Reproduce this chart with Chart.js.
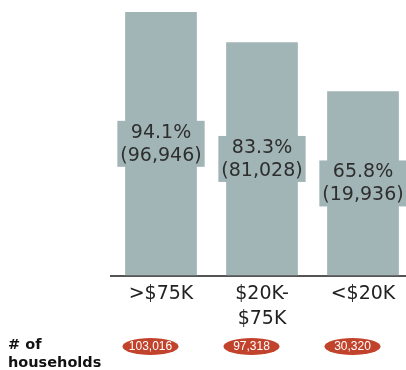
<!DOCTYPE html>
<html>
<head>
<meta charset="utf-8">
<script src="https://cdn.jsdelivr.net/npm/chart.js@4"></script>
<style>
  html, body { margin:0; padding:0; background:#fff; overflow:hidden; }
  #wrap { width:414px; height:370px; position:relative; }
</style>
</head>
<body>
<div id="wrap"><canvas id="graphicFirst"></canvas></div>
<script>
// Households by income - share + count
const categories = ['>$75K', ['$20K-', '$75K'], '<$20K'];
const percentValues = [94.1, 83.3, 65.8];
const countLabels = ['(96,946)', '(81,028)', '(19,936)'];
const households = ['103,016', '97,318', '30,320'];

const barColor = '#a2b5b6';
const pillColor = '#c2432b';
const fontFam = '"DejaVu Sans", sans-serif';

//---LABELS INSIDE BARS
const barLabels = {
  id: 'barLabels',
  afterDatasetsDraw(chart){
    const ctx = chart.ctx;
    const meta = chart.getDatasetMeta(0);
    ctx.save();
    ctx.font = '19px ' + fontFam;
    ctx.textAlign = 'center';
    ctx.textBaseline = 'middle';
    meta.data.forEach(function(bar, i){
      const line1 = percentValues[i].toFixed(1) + '%';
      const line2 = countLabels[i];
      const w = Math.max(ctx.measureText(line1).width, ctx.measureText(line2).width) + 6;
      const cy = (bar.y + bar.base) / 2;
      ctx.fillStyle = barColor;
      ctx.fillRect(bar.x - w/2, cy - 23, w, 46);
      ctx.fillStyle = '#2e2e2e';
      ctx.fillText(line1, bar.x, cy - 11);
      ctx.fillText(line2, bar.x, cy + 12);
    });
    ctx.restore();
  }
};

//---HOUSEHOLD PILLS
const householdRow = {
  id: 'householdRow',
  afterDraw(chart){
    const ctx = chart.ctx;
    const xs = chart.scales.x;
    const cy = chart.height - 23.5;
    ctx.save();
    ctx.fillStyle = '#111';
    ctx.font = 'bold 14.5px ' + fontFam;
    ctx.textAlign = 'left';
    ctx.textBaseline = 'alphabetic';
    ctx.fillText('# of', 8, cy + 2);
    ctx.fillText('households', 8, cy + 20);
    ctx.font = '12px "Liberation Sans", sans-serif';
    ctx.textAlign = 'center';
    ctx.textBaseline = 'middle';
    households.forEach(function(h, i){
      const x = xs.getPixelForValue(i) - 10.5;
      ctx.fillStyle = pillColor;
      ctx.beginPath();
      ctx.ellipse(x, cy, 28, 8.5, 0, 0, Math.PI * 2);
      ctx.fill();
      ctx.fillStyle = '#fff';
      ctx.fillText(h, x, cy + 0.5);
    });
    ctx.restore();
  }
};

let chart1 = new Chart(document.getElementById('graphicFirst').getContext('2d'), {
  type: 'bar',
  data: {
    labels: categories,
    datasets: [{
      data: percentValues,
      backgroundColor: barColor,
      borderWidth: 0,
      barPercentage: 0.71,
      categoryPercentage: 1
    }]
  },
  plugins: [barLabels, householdRow],
  options: {
    responsive: true,
    maintainAspectRatio: false,
    animation: false,
    layout: { padding: { left: 110.5, right: 0.5, top: 0, bottom: 33 } },
    plugins: { legend: { display: false }, tooltip: { enabled: false } },
    scales: {
      y: { display: false, min: 0, max: 98.4 },
      x: {
        grid: { display: false, drawTicks: false },
        border: { display: true, color: '#555', width: 2 },
        ticks: {
          color: '#222',
          padding: 6,
          maxRotation: 0,
          font: { family: fontFam, size: 19, lineHeight: 1.3 }
        }
      }
    }
  }
});
</script>
</body>
</html>
